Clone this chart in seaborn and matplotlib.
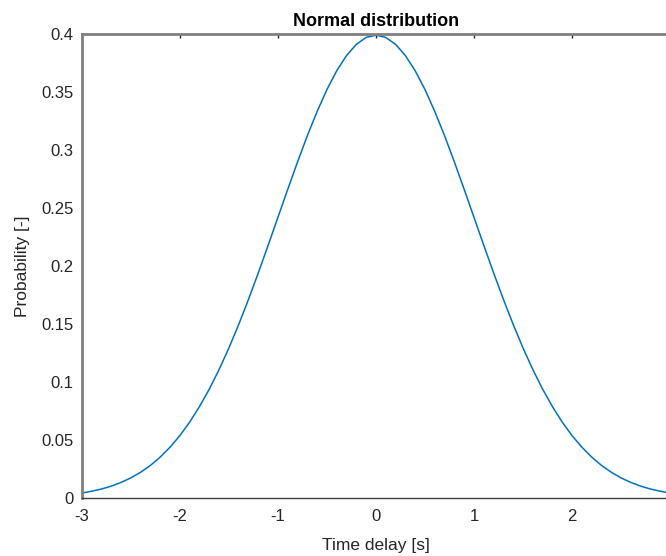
import matplotlib
matplotlib.use('Agg')
import matplotlib.pyplot as plt
import numpy as np
import pandas as pd
import seaborn as sns

# values
delay = [-3.0, -2.9, -2.8, -2.7, -2.6, -2.5, -2.4, -2.3, -2.2, -2.1,
         -2.0, -1.9, -1.8, -1.7, -1.6, -1.5, -1.4, -1.3, -1.2, -1.1,
         -1.0, -0.9, -0.8, -0.7, -0.6, -0.5, -0.4, -0.3, -0.2, -0.1,
         0.0, 0.1, 0.2, 0.3, 0.4, 0.5, 0.6, 0.7, 0.8, 0.9,
         1.0, 1.1, 1.2, 1.3, 1.4, 1.5, 1.6, 1.7, 1.8, 1.9,
         2.0, 2.1, 2.2, 2.3, 2.4, 2.5, 2.6, 2.7, 2.8, 2.9, 3.0]
probability = [0.0044, 0.0060, 0.0079, 0.0104, 0.0136, 0.0175, 0.0224, 0.0283,
               0.0355, 0.0440, 0.0540, 0.0656, 0.0790, 0.0940, 0.1109, 0.1295,
               0.1497, 0.1714, 0.1942, 0.2179, 0.2420, 0.2661, 0.2897, 0.3123,
               0.3332, 0.3521, 0.3683, 0.3814, 0.3910, 0.3970, 0.3989,
               0.3970, 0.3910, 0.3814, 0.3683, 0.3521, 0.3332, 0.3123, 0.2897,
               0.2661, 0.2420, 0.2179, 0.1942, 0.1714, 0.1497, 0.1295, 0.1109,
               0.0940, 0.0790, 0.0656, 0.0540, 0.0440, 0.0355, 0.0283, 0.0224,
               0.0175, 0.0136, 0.0104, 0.0079, 0.0060, 0.0044]

x_ticks = [-3, -2, -1, 0, 1, 2, 3]
y_ticks = [0, 0.05, 0.1, 0.15, 0.2, 0.25, 0.3, 0.35, 0.4]
y_labels = ['0', '0.05', '0.1', '0.15', '0.2', '0.25', '0.3', '0.35', '0.4']

sns.set_style('white')
plt.rcParams['font.family'] = ['Liberation Sans', 'DejaVu Sans']

df = pd.DataFrame({'delay': delay, 'probability': probability})

fig = plt.figure(figsize=(6.66, 5.56), dpi=100)
ax = fig.add_axes([0.123, 0.104, 0.883, 0.835])

sns.lineplot(data=df, x='delay', y='probability', ax=ax,
             color='#0072BD', linewidth=1.1)

ax.set_xlim(-3, 3)
ax.set_ylim(0, 0.4)
ax.set_xticks(x_ticks)
ax.set_xticklabels([str(t) for t in x_ticks])
ax.set_yticks(y_ticks)
ax.set_yticklabels(y_labels)

text_color = '#262626'
ax.tick_params(direction='in', length=3, width=1, labelsize=12,
               colors=text_color, top=True, right=True)
ax.tick_params(axis='x', pad=8)
ax.tick_params(axis='y', pad=6)
for side in ['left', 'top']:
    ax.spines[side].set_color('#808080')
    ax.spines[side].set_linewidth(2.0)
ax.spines['bottom'].set_color('#404040')
ax.spines['bottom'].set_linewidth(1.0)
ax.spines['right'].set_color('#808080')

ax.set_xlabel('Time delay [s]', fontsize=12.5, color=text_color, labelpad=10)
ax.set_ylabel('Probability [-]', fontsize=12.5, color=text_color, labelpad=8)
ax.set_title('Normal distribution', fontsize=13, fontweight='bold',
             color='black', pad=6)

fig.savefig('out.png', dpi=100)
